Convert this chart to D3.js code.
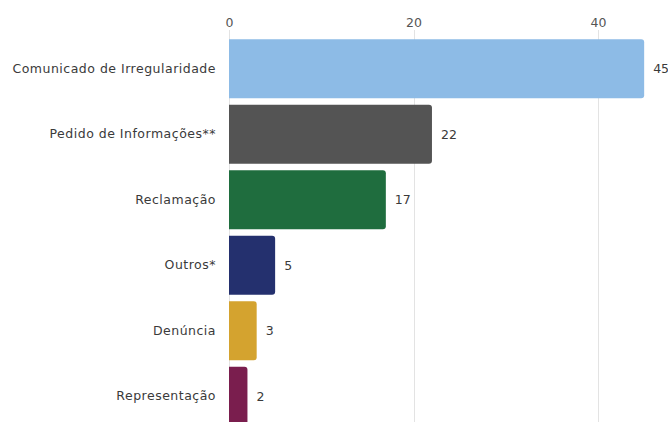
<!DOCTYPE html>
<html>
<head>
<meta charset="utf-8">
<script src="https://cdn.jsdelivr.net/npm/d3@7"></script>
<style>
  html, body { margin: 0; padding: 0; background: #fff; overflow: hidden; }
  svg { display: block; }
  text { font-family: "DejaVu Sans", sans-serif; }
</style>
</head>
<body>
<svg id="chart" width="668" height="422"></svg>
<script>
// Atendimentos por tipo de manifestação
const categories = [
  "Comunicado de Irregularidade",
  "Pedido de Informações**",
  "Reclamação",
  "Outros*",
  "Denúncia",
  "Representação"
];
const values = [45, 22, 17, 5, 3, 2];
const colors = ["#8dbbe6", "#545454", "#1f6d3e", "#24306e", "#d4a32f", "#7a1e4e"];
const tickValues = [0, 20, 40];

const width = 668, height = 422;
const margin = { top: 36, left: 229, right: 15 };
const rangeEnd = 429; // plot continues beneath the window edge
const font = "'DejaVu Sans', sans-serif";

const svg = d3.select("#chart");

const x = d3.scaleLinear()
  .domain([0, 46.5])
  .range([margin.left, 658]);

const y = d3.scaleBand()
  .domain(categories)
  .range([margin.top, rangeEnd])
  .paddingInner(0.1)
  .paddingOuter(0.05);

// vertical grid lines
svg.append("g")
  .selectAll("line")
  .data(tickValues)
  .join("line")
  .attr("x1", d => Math.round(x(d)) + 0.5)
  .attr("x2", d => Math.round(x(d)) + 0.5)
  .attr("y1", 30)
  .attr("y2", height)
  .attr("stroke", "#e3e3e3")
  .attr("stroke-width", 1);

// top axis labels
const xAxis = d3.axisTop(x).tickValues(tickValues).tickSize(0).tickPadding(0);
const gx = svg.append("g")
  .attr("transform", "translate(0,27)")
  .call(xAxis);
gx.select(".domain").remove();
gx.selectAll("text")
  .attr("font-size", 12.5)
  .attr("fill", "#555")
  .style("font-family", font);

// bars with rounded right end
const r = 3;
function barPath(d, i) {
  const x0 = x(0), x1 = x(d), y0 = y(categories[i]), h = y.bandwidth();
  const rr = Math.min(r, (x1 - x0) / 2);
  return `M${x0},${y0}H${x1 - rr}Q${x1},${y0} ${x1},${y0 + rr}` +
         `V${y0 + h - rr}Q${x1},${y0 + h} ${x1 - rr},${y0 + h}H${x0}Z`;
}
svg.append("g")
  .selectAll("path")
  .data(values)
  .join("path")
  .attr("d", barPath)
  .attr("fill", (d, i) => colors[i]);

// category labels
const gy = svg.append("g")
  .attr("transform", `translate(${margin.left - 13},0)`)
  .call(d3.axisLeft(y).tickSize(0).tickPadding(0));
gy.select(".domain").remove();
gy.selectAll("text")
  .attr("font-size", 12.5)
  .attr("letter-spacing", "0.5px")
  .attr("fill", "#3a3a3a")
  .style("font-family", font);

// value labels
svg.append("g")
  .selectAll("text")
  .data(values)
  .join("text")
  .attr("x", d => x(d) + 9)
  .attr("y", (d, i) => y(categories[i]) + y.bandwidth() / 2)
  .attr("dy", "0.35em")
  .attr("font-size", 12.5)
  .attr("fill", "#3a3a3a")
  .style("font-family", font)
  .text(d => d);
</script>
</body>
</html>
